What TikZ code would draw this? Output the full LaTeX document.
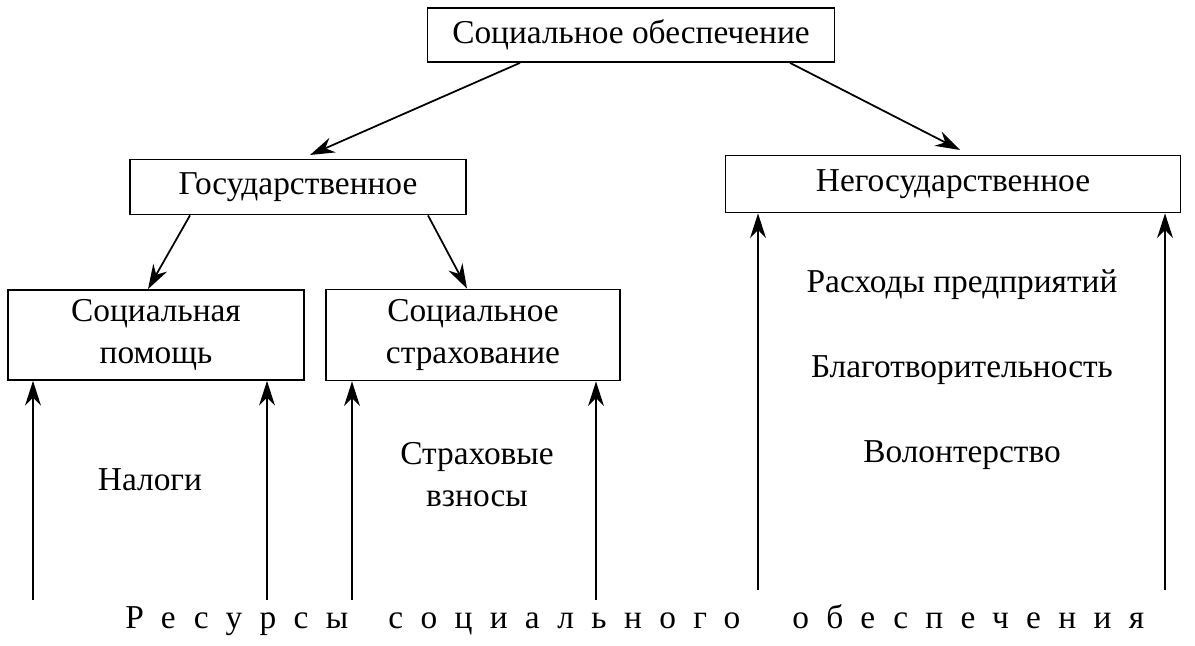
\documentclass[tikz,border=0pt]{standalone}
\usepackage{fontspec}
\setmainfont{Liberation Serif}
\usetikzlibrary{arrows.meta}
\tikzset{
  box/.style={draw, line width=1pt, inner sep=0pt, align=center},
  arr/.style={-{Stealth[length=14pt,width=9pt]}, line width=1pt},
  lbl/.style={align=center, inner sep=0pt}
}
\begin{document}
\fontsize{19}{24}\selectfont
\begin{tikzpicture}[x=0.02cm, y=-0.02cm]
  \useasboundingbox (0,0) rectangle (1195,645);
  % boxes
  \node[box, minimum width=407*0.02cm, minimum height=54*0.02cm] (top) at (631,35) {Социальное обеспечение};
  \node[box, minimum width=336*0.02cm, minimum height=55*0.02cm] (gos) at (298,187) {Государственное};
  \node[box, minimum width=455*0.02cm, minimum height=57*0.02cm] (negos) at (953,184) {Негосударственное};
  \node[box, minimum width=296*0.02cm, minimum height=90*0.02cm] (pom) at (156,335) {Социальная\\помощь};
  \node[box, minimum width=294*0.02cm, minimum height=91*0.02cm] (strah) at (473,335) {Социальное\\страхование};
  % arrows from top
  \draw[arr] (top.south -| 520,0) -- (310,155) coordinate (g1);
  \draw[arr] (top.south -| 790,0) -- (960,150) coordinate (n1);
  \draw[arr] (gos.south -| 190,0) -- (pom.north -| 148,0);
  \draw[arr] (gos.south -| 428,0) -- (strah.north -| 467,0);
  % resources
  \coordinate (b1) at (33,600);
  \coordinate (b2) at (267,600);
  \coordinate (b3) at (352,600);
  \coordinate (b4) at (596,600);
  \coordinate (b5) at (758,590);
  \coordinate (b6) at (1165,590);
  \draw[arr] (b1) -- (pom.south -| b1);
  \draw[arr] (b2) -- (pom.south -| b2);
  \draw[arr] (b3) -- (strah.south -| b3);
  \draw[arr] (b4) -- (strah.south -| b4);
  \draw[arr] (b5) -- (negos.south -| b5);
  \draw[arr] (b6) -- (negos.south -| b6);
  % texts
  \node[lbl] (nal) at (150,480) {Налоги};
  \node[lbl] (vzn) at (477,475) {Страховые\\взносы};
  \node[lbl] (rash) at (962,285) {Расходы предприятий};
  \node[lbl] (blag) at (962,370) {Благотворительность};
  \node[lbl] (vol) at (962,455) {Волонтерство};
  \node[lbl, anchor=base west] (w1) at (125,628) {\addfontfeatures{LetterSpace=52}Ресурсы};
  \node[lbl, anchor=base west] (w2) at (388,628) {\addfontfeatures{LetterSpace=52}социального};
  \node[lbl, anchor=base west] (w3) at (792,628) {\addfontfeatures{LetterSpace=52}обеспечения};
\end{tikzpicture}
\end{document}
